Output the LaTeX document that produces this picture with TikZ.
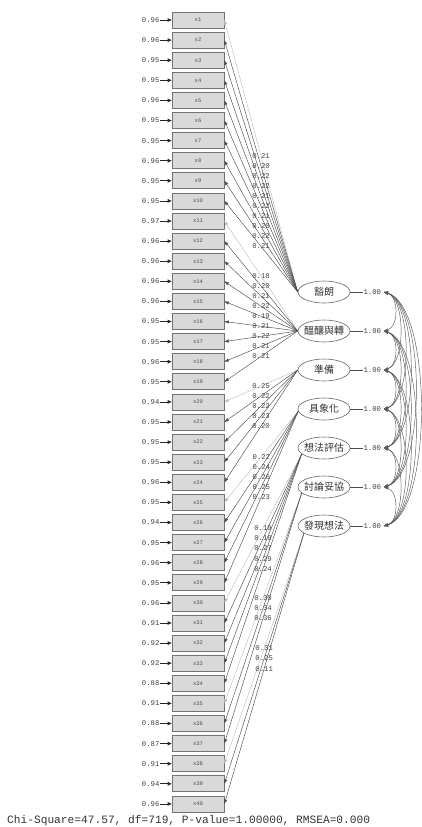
\documentclass[tikz,border=0pt]{standalone}
\usepackage{fontspec}
\setmainfont{Liberation Serif}
\newfontfamily\cjk{Noto Sans CJK TC}
\newfontfamily\mono{Liberation Mono}
\usetikzlibrary{arrows.meta,shapes.geometric,calc}
\begin{document}
\begin{tikzpicture}[x=1pt,y=-1pt,
  obs/.style={draw=black!55, fill=black!15, line width=0.7pt, minimum width=52pt, minimum height=16pt, inner sep=0pt, font=\mono\fontsize{5.5}{6}\selectfont, text=black!70},
  lat/.style={ellipse, draw=black!60, line width=0.6pt, minimum width=52pt, minimum height=22pt, inner sep=0pt, font=\cjk\fontsize{10}{12}\selectfont, text=black!80},
  val/.style={font=\mono\fontsize{7.3}{8}\selectfont, text=black!75, inner sep=0.3pt},
  load/.style={draw=black!70, line width=0.45pt, -{Triangle[length=4.5pt,width=3pt]}},
  fixload/.style={draw=black!25, line width=0.45pt, -{Triangle[length=4.5pt,width=3pt]}},
  errarr/.style={draw=black!85, line width=0.7pt, -{Triangle[length=4pt,width=3.5pt]}},
  varline/.style={draw=black!70, line width=0.5pt},
  covarc/.style={draw=black!65, line width=0.45pt, {Triangle[length=4pt,width=3pt]}-{Triangle[length=4pt,width=3pt]}},
  fitstat/.style={font=\mono\fontsize{11.2}{12}\selectfont, text=black!80, inner sep=0pt}
]
\useasboundingbox (0,0) rectangle (422,827);

% observed variables and error variances
\foreach \i/\v in {1/0.96,2/0.96,3/0.95,4/0.95,5/0.96,6/0.95,7/0.95,8/0.96,9/0.95,10/0.95,
  11/0.97,12/0.96,13/0.96,14/0.96,15/0.96,16/0.95,17/0.95,18/0.96,19/0.95,20/0.94,
  21/0.95,22/0.95,23/0.95,24/0.96,25/0.95,26/0.94,27/0.95,28/0.96,29/0.95,30/0.96,
  31/0.91,32/0.92,33/0.92,34/0.88,35/0.91,36/0.88,37/0.87,38/0.91,39/0.94,40/0.96}{
  \node[obs] (x\i) at (198,{20+(\i-1)*20.1}) {x\i};
  \node[val, anchor=east] (e\i) at (160,{20+(\i-1)*20.1}) {\v};
  \draw[errarr] (e\i.east) -- (x\i.west);
}

% latent variables
\foreach \l/\t in {1/豁朗,2/醞釀與轉,3/準備,4/具象化,5/想法評估,6/討論妥協,7/發現想法}{
  \node[lat] (L\l) at (324,{292+(\l-1)*39}) {\makebox[0pt]{\t}};
  \node[val, anchor=west] (v\l) at (363,{292+(\l-1)*39}) {1.00};
  \draw[varline] (L\l.east) -- (v\l.west);
  \coordinate (c\l) at (384,{292+(\l-1)*39});
}

% loadings
\foreach \i/\l/\v/\s/\an in {
  1/1/0.21/fixload/180,2/1/0.20/load/180,3/1/0.22/load/180,4/1/0.22/load/180,5/1/0.21/load/180,
  6/1/0.22/load/180,7/1/0.21/load/180,8/1/0.20/load/180,9/1/0.22/load/180,10/1/0.21/load/180,
  11/2/0.18/fixload/180,12/2/0.20/load/180,13/2/0.21/load/180,14/2/0.22/load/180,15/2/0.19/load/180,
  16/2/0.21/load/180,17/2/0.22/load/180,18/2/0.21/load/180,19/2/0.21/load/180,
  20/3/0.25/fixload/180,21/3/0.22/load/180,22/3/0.22/load/180,23/3/0.23/load/180,24/3/0.20/load/180,
  25/4/0.22/fixload/185,26/4/0.24/load/185,27/4/0.26/load/185,28/4/0.25/load/185,29/4/0.23/load/185,
  30/5/0.19/fixload/195,31/5/0.19/load/195,32/5/0.27/load/195,33/5/0.29/load/195,34/5/0.24/load/195,
  35/6/0.30/fixload/195,36/6/0.34/load/195,37/6/0.36/load/195,
  38/7/0.31/fixload/200,39/7/0.25/load/200,40/7/0.11/load/200}{
  \draw[\s] (L\l.\an) -- node[val]{\v} (x\i.east);
}

% covariances
\foreach \a in {1,...,6}{
  \pgfmathtruncatemacro\nb{\a+1}
  \foreach \b in {\nb,...,7}{
    \pgfmathsetmacro\dd{8+6.8*(\b-\a)}
    \pgfmathsetmacro\kk{0.3*\dd}
    \draw[covarc] (c\a) .. controls ($(c\a)+(\dd,\kk)$) and ($(c\b)+(\dd,-\kk)$) .. (c\b);
  }
}

\node[fitstat, anchor=west] (fit) at (7,821) {Chi-Square=47.57, df=719, P-value=1.00000, RMSEA=0.000};
\end{tikzpicture}
\end{document}
